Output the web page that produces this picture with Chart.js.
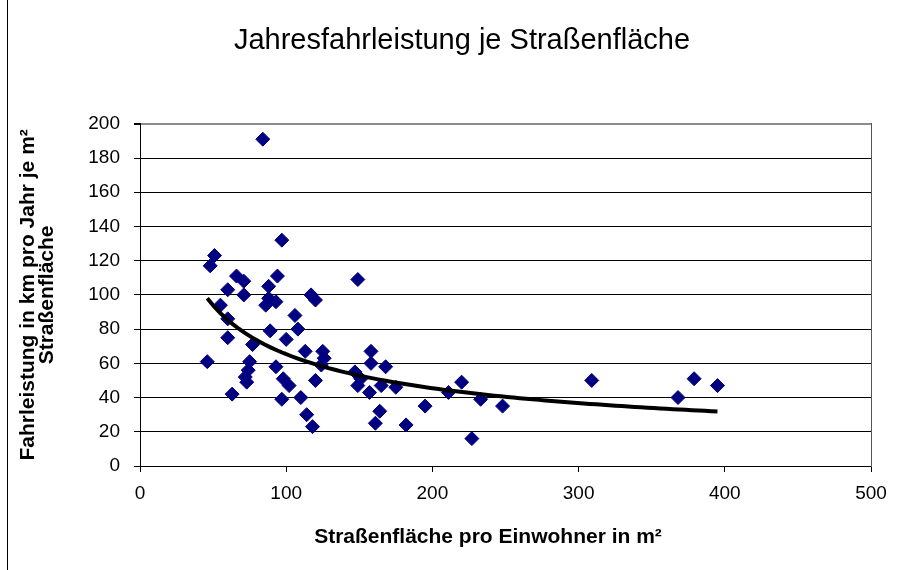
<!DOCTYPE html>
<html>
<head>
<meta charset="utf-8">
<script src="https://cdn.jsdelivr.net/npm/chart.js@4.4.0/dist/chart.umd.min.js"></script>
<style>
  html, body { margin: 0; padding: 0; background: #fff; }
  #wrap { width: 906px; height: 570px; position: relative; }
</style>
</head>
<body>
<div id="wrap"><canvas id="c" width="906" height="570"></canvas></div>
<script>
// Straßenfläche pro Einwohner in m² (x) and Fahrleistung in km pro Jahr je m² Straßenfläche (y)
const areaPerInhabitant = [
  84, 97, 51, 48, 94, 149, 66, 71, 60, 71,
  93, 88, 88, 86, 117, 120, 55, 60, 106, 108,
  89, 60, 100, 77, 46, 75, 74, 72, 73, 63,
  93, 98, 102, 97, 110, 113, 114, 118, 125, 126,
  124, 120, 147, 149, 151, 158, 158, 157, 164, 161,
  168, 165, 175, 182, 195, 211, 220, 233, 248, 227,
  309, 379, 395, 368
];
const mileagePerArea = [
  191, 132, 123, 117, 111, 109, 111, 108, 103, 100,
  96, 105, 98, 94, 100, 97, 94, 86, 88, 80,
  79, 75, 74, 71, 61, 61, 56, 52, 49, 42,
  58, 51, 47, 39, 40, 67, 30, 23, 67, 63,
  59, 50, 55, 47, 51, 67, 60, 43, 32, 25,
  58, 47, 46, 24, 35, 43, 49, 39, 35, 16,
  50, 51, 47, 40
];
const xTickValues = [0, 100, 200, 300, 400, 500];
const yTickValues = [0, 20, 40, 60, 80, 100, 120, 140, 160, 180, 200];

const chartTitle = 'Jahresfahrleistung je Straßenfläche';
const xTitle = 'Straßenfläche pro Einwohner in m²';
const yTitle = ['Fahrleistung in km pro Jahr je m²', 'Straßenfläche'];

// scatter points
const points = areaPerInhabitant.map((x, i) => ({ x: x, y: mileagePerArea[i] }));

// power trendline (least squares on ln-ln, as a spreadsheet does)
let sx = 0, sy = 0, sxx = 0, sxy = 0;
const n = points.length;
points.forEach(p => {
  const lx = Math.log(p.x), ly = Math.log(p.y);
  sx += lx; sy += ly; sxx += lx * lx; sxy += lx * ly;
});
const bCoef = (n * sxy - sx * sy) / (n * sxx - sx * sx);
const aCoef = Math.exp((sy - bCoef * sx) / n);
const xMin = Math.min(...areaPerInhabitant), xMax = Math.max(...areaPerInhabitant);
const trend = [];
for (let k = 0; k <= 80; k++) {
  const x = xMin + (xMax - xMin) * k / 80;
  trend.push({ x: x, y: aCoef * Math.pow(x, bCoef) });
}

const FONT = "'Liberation Sans', Arial, sans-serif";

const leftBorder = {
  id: 'leftBorder',
  afterDraw(chart) {
    const ctx = chart.ctx;
    ctx.save();
    ctx.strokeStyle = '#000';
    ctx.lineWidth = 1;
    ctx.beginPath();
    ctx.moveTo(7.5, 0);
    ctx.lineTo(7.5, 570);
    ctx.stroke();
    ctx.restore();
  }
};

new Chart(document.getElementById('c'), {
  type: 'scatter',
  data: {
    datasets: [
      {
        type: 'line',
        label: 'Trend',
        data: trend,
        borderColor: '#000',
        borderWidth: 4,
        pointRadius: 0,
        fill: false,
        tension: 0,
        order: 0
      },
      {
        label: 'Daten',
        data: points,
        pointStyle: 'rectRot',
        pointRadius: 7,
        pointHoverRadius: 7,
        backgroundColor: '#000080',
        borderColor: '#000080',
        borderWidth: 1,
        order: 1
      }
    ]
  },
  options: {
    responsive: false,
    animation: false,
    layout: { padding: { left: 18, right: 0, top: 0, bottom: 0 } },
    plugins: {
      legend: { display: false },
      tooltip: { enabled: false },
      title: {
        display: true,
        text: chartTitle,
        color: '#000',
        font: { family: FONT, size: 29, weight: 'normal', lineHeight: 1.2 },
        padding: { top: 24, bottom: 65 }
      }
    },
    scales: {
      x: {
        type: 'linear',
        position: 'bottom',
        min: 0,
        max: 500,
        afterBuildTicks(scale) { scale.ticks = xTickValues.map(v => ({ value: v })); },
        afterFit(scale) { scale.height = 104; },
        ticks: {
          color: '#000',
          font: { family: FONT, size: 19 },
          padding: 10,
          maxRotation: 0
        },
        grid: {
          drawOnChartArea: false,
          drawTicks: true,
          tickLength: 6,
          tickColor: '#000'
        },
        border: { display: true, color: '#000', width: 1 },
        title: {
          display: true,
          text: xTitle + '\u00A0\u00A0\u00A0\u00A0\u00A0\u00A0',
          color: '#000',
          font: { family: FONT, size: 21, weight: 'bold', lineHeight: 1.2 },
          padding: { top: 10, bottom: 20 }
        }
      },
      y: {
        type: 'linear',
        position: 'left',
        min: 0,
        max: 200,
        afterBuildTicks(scale) { scale.ticks = yTickValues.map(v => ({ value: v })); },
        afterFit(scale) { scale.width = 122; },
        ticks: {
          color: '#000',
          font: { family: FONT, size: 19 },
          padding: 14
        },
        grid: {
          color: ctx => (ctx.tick && ctx.tick.value === 200 ? '#8c8c8c' : '#000'),
          lineWidth: ctx => (ctx.tick && ctx.tick.value === 200 ? 2 : 1),
          drawTicks: true,
          tickLength: 6,
          tickColor: '#000'
        },
        border: { display: true, color: '#000', width: 1 },
        title: {
          display: true,
          text: yTitle,
          color: '#000',
          font: { family: FONT, size: 21, weight: 'bold', lineHeight: 0.93 },
          padding: { top: 0, bottom: 0 }
        }
      },
      y2: {
        type: 'linear',
        position: 'right',
        min: 0,
        max: 200,
        afterFit(scale) { scale.width = 35; },
        ticks: { display: false },
        grid: { display: true, drawOnChartArea: false, drawTicks: false },
        border: { display: true, color: '#555', width: 1 }
      }
    }
  },
  plugins: [leftBorder]
});
</script>
</body>
</html>
